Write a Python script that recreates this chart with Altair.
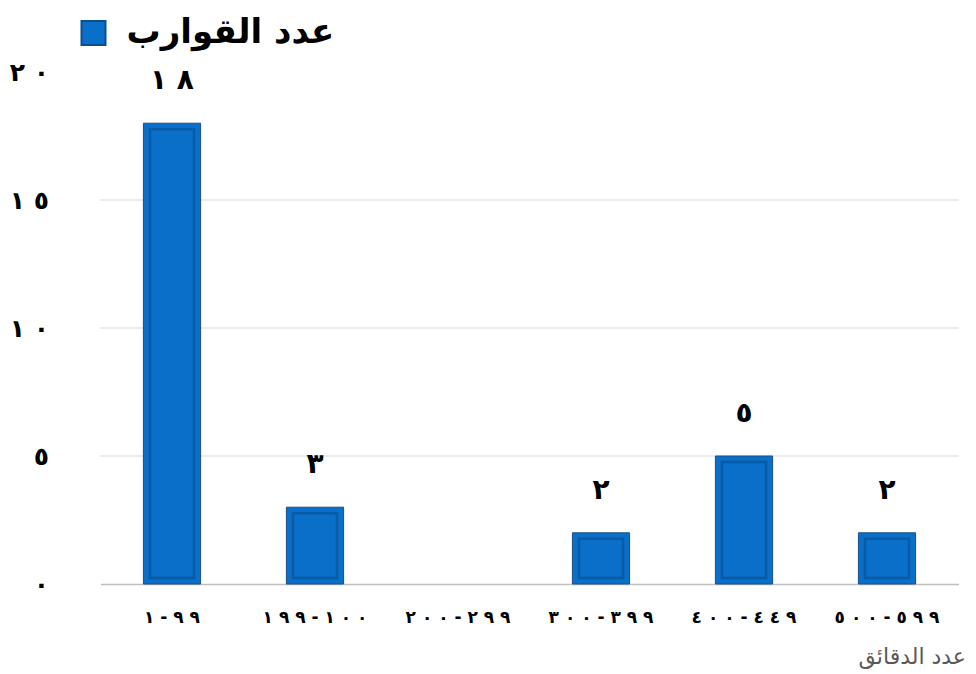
import altair as alt
import pandas as pd

categories = ["١-٩٩", "١٩٩-١٠٠", "٢٠٠-٢٩٩", "٣٠٠-٣٩٩", "٤٠٠-٤٤٩", "٥٠٠-٥٩٩"]
values = [18, 3, 0, 2, 5, 2]
value_labels = ["١٨", "٣", "", "٢", "٥", "٢"]
y_ticks = [0, 5, 10, 15, 20]
y_tick_labels = ["٠", "٥", "١٠", "١٥", "٢٠"]
grid_values = [5, 10, 15]
series_name = "عدد القوارب"
x_title = "عدد الدقائق"

LRO, PDF = "\u202d", "\u202c"


def spaced(s, sep=" "):
    return LRO + sep.join(s) + PDF if s else ""


disp_cats = [spaced(c) for c in categories]
df = pd.DataFrame({
    "cat": disp_cats,
    "value": values,
    "label": [spaced(v) for v in value_labels],
    "series": [series_name] * len(values),
})
grid_df = pd.DataFrame({"g": grid_values})

label_expr = " : ".join(
    f"datum.value == {v} ? '{spaced(l)}'" for v, l in zip(y_ticks, y_tick_labels)
) + " : ''"

W, H = 858, 512
xscale = alt.Scale(domain=disp_cats, paddingInner=0.6, paddingOuter=0.3)
xenc = alt.X(
    "cat:N", sort=disp_cats, scale=xscale,
    axis=alt.Axis(
        title=x_title, labelAngle=0, labelFont="DejaVu Sans", labelFontSize=17,
        labelFontWeight="bold", labelColor="black", labelPadding=25, labelBaseline="top",
        ticks=False, domainColor="#BFBFBF", domainWidth=1.5,
        titleFont="DejaVu Sans", titleFontSize=22, titleFontWeight="normal",
        titleColor="#595959", titleX=W + 7, titleY=79, titleAlign="right",
        titleBaseline="alphabetic",
    ),
)
yscale = alt.Scale(domain=[0, 20])
yenc = alt.Y(
    "value:Q", scale=yscale,
    axis=alt.Axis(
        title=None, values=y_ticks, labelExpr=label_expr, grid=False, domain=False,
        ticks=False, labelFont="DejaVu Sans", labelFontSize=25, labelFontWeight="bold",
        labelColor="black", labelPadding=52,
    ),
)

grid = alt.Chart(grid_df).mark_rule(color="#D9D9D9", strokeWidth=1.2).encode(
    y=alt.Y("g:Q", scale=yscale)
)

bars = alt.Chart(df).transform_filter("datum.value > 0").mark_bar(
    stroke="#1B4E86", strokeWidth=1
).encode(
    x=xenc, y=yenc,
    color=alt.Color(
        "series:N", scale=alt.Scale(range=["#0A6FC8"]),
        legend=alt.Legend(
            orient="none", legendX=-24, legendY=-56, title=None, symbolType="square",
            symbolSize=576, symbolStrokeColor="#0B4F8F", symbolStrokeWidth=2,
            labelFont="DejaVu Sans", labelFontSize=34, labelFontWeight="bold",
            labelColor="black", labelOffset=16, labelLimit=400,
        ),
    ),
)

inner = alt.Chart(df).transform_filter("datum.value > 0").mark_bar(
    size=44, fill="transparent", stroke="#0A4A88", strokeWidth=2.5, strokeOpacity=0.55,
    yOffset=6, y2Offset=-6,
).encode(x=alt.X("cat:N", sort=disp_cats, scale=xscale),
         y=alt.Y("value:Q", scale=yscale), y2=alt.datum(0))

text = alt.Chart(df).mark_text(
    font="DejaVu Sans", fontSize=28, fontWeight="bold", color="black",
    baseline="alphabetic", dy=-34,
).encode(x=alt.X("cat:N", sort=disp_cats, scale=xscale),
         y=alt.Y("value:Q", scale=yscale), text="label:N")

chart = (grid + bars + inner + text).properties(
    width=W, height=H,
    autosize=alt.AutoSizeParams(type="none"),
    padding={"left": 92.5, "top": 64, "right": 9, "bottom": 90},
    background="white",
).configure_view(stroke=None)

chart.save("out.html", embed_options={"renderer": "svg", "actions": False})
